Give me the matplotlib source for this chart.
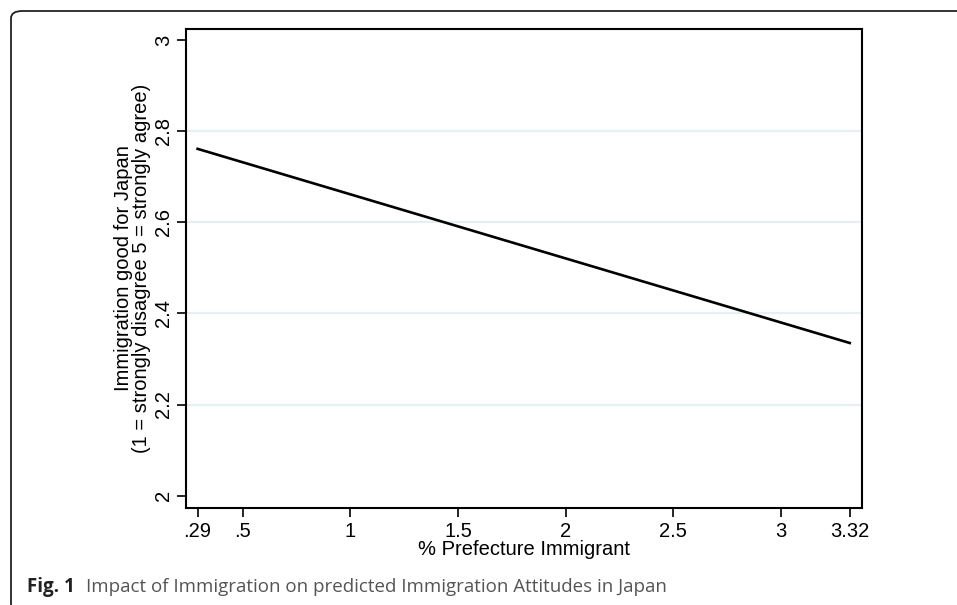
import matplotlib.pyplot as plt
from matplotlib.patches import FancyBboxPatch

# Data
pct_immigrant = [0.29, 3.32]
predicted_attitude = [2.761, 2.335]
x_ticks = [0.29, 0.5, 1, 1.5, 2, 2.5, 3, 3.32]
x_labels = ['.29', '.5', '1', '1.5', '2', '2.5', '3', '3.32']
y_ticks = [2, 2.2, 2.4, 2.6, 2.8, 3]
y_labels = ['2', '2.2', '2.4', '2.6', '2.8', '3']
grid_levels = [2.2, 2.4, 2.6, 2.8]

plt.rcParams['font.family'] = ['Liberation Sans', 'DejaVu Sans']

W, H = 957, 605
fig = plt.figure(figsize=(W / 100, H / 100), dpi=100)
ax = fig.add_axes([186 / W, 1 - 507.5 / H, (862 - 186) / W, (507.5 - 29) / H])

# frame around the figure (rounded corner top-left, runs off right edge)
frame = FancyBboxPatch((11 / W, -0.01), 1.2, 1 - 11 / H + 0.01,
	boxstyle='round,pad=0,rounding_size=0.012',
	transform=fig.transFigure, fill=False, edgecolor='#222222',
	linewidth=1.3, clip_on=False)
fig.patches.append(frame)

for g in grid_levels:
	ax.axhline(g, color='#e6eff1', linewidth=1.6, zorder=0)

ax.plot(pct_immigrant, predicted_attitude, color='black', linewidth=1.9, zorder=3)

ax.set_xlim(0.236, 3.377)
ax.set_ylim(1.974, 3.024)
ax.set_xticks(x_ticks)
ax.set_xticklabels(x_labels)
ax.set_yticks(y_ticks)
ax.set_yticklabels(y_labels, rotation=90, va='center')

ax.tick_params(axis='both', length=6.5, width=1.2, labelsize=14.5, color='black')
ax.tick_params(axis='x', pad=4)
ax.tick_params(axis='y', pad=3)
for s in ax.spines.values():
	s.set_linewidth(1.5)

ax.set_xlabel('% Prefecture Immigrant', fontsize=14.5, labelpad=-1)
ax.set_ylabel('Immigration good for Japan\n(1 = strongly disagree 5 = strongly agree)',
	fontsize=14.5, labelpad=2, linespacing=0.95)

# caption
fig.text(27 / W, 1 - 592 / H, 'Fig. 1', fontsize=13.5, fontweight='bold',
	family='Open Sans', color='#222222', va='baseline')
fig.text(86 / W, 1 - 592 / H, 'Impact of Immigration on predicted Immigration Attitudes in Japan',
	fontsize=13.5, family='Open Sans', color='#555555', va='baseline')

fig.savefig('out.png', dpi=100)
